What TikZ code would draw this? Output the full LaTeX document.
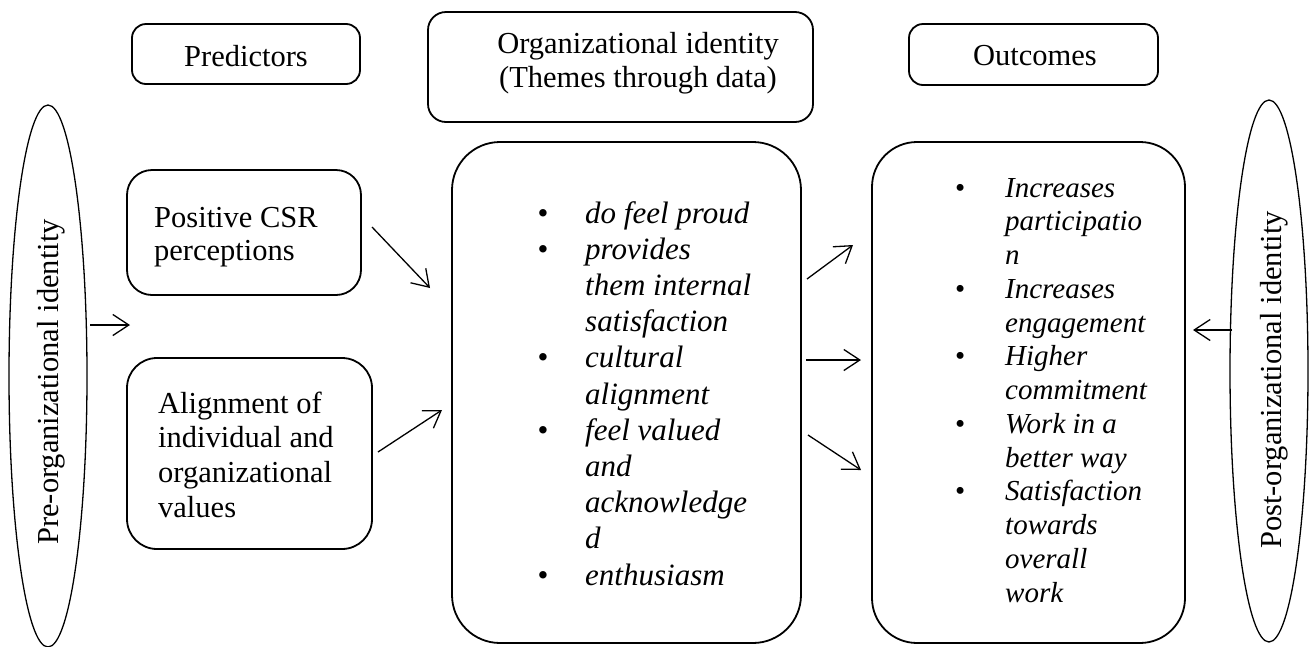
\documentclass[tikz,border=0pt]{standalone}
\usepackage{fontspec}
\setmainfont{Liberation Serif}
\usetikzlibrary{arrows.meta,shapes.geometric}

% font sizes used in the figure
\newcommand{\labelsize}{\fontsize{30.5}{33.5}\selectfont}
\newcommand{\themesize}{\fontsize{31}{36.2}\selectfont}
\newcommand{\outsize}{\fontsize{29}{33.75}\selectfont}

\begin{document}
\begin{tikzpicture}[x=1pt,y=-1pt,
  box/.style={draw,line width=1.8pt,rounded corners=#1,inner sep=0pt,
              outer sep=0pt,rectangle},
  oval/.style={draw,ellipse,line width=1.3pt,inner sep=0pt,
               minimum width=78pt,minimum height=542pt},
  label/.style={inner sep=0pt,font=\labelsize},
  flow/.style={line width=1.3pt,-{Straight Barb[length=16pt,width=21pt,line width=1.3pt]}}]

\useasboundingbox (0,0) rectangle (1309,646);
\clip (0,0) rectangle (1309,646);

% column headings
\node[box=14pt,minimum width=228pt,minimum height=60pt] (predbox) at (246,54) {};
\node[label] (predtxt) at (246,56) {Predictors};

\node[box=18pt,minimum width=385pt,minimum height=110pt] (orgbox) at (620.5,67) {};
\node[label,align=center] (orgtxt) at (638,63)
  {Organizational identity\\(Themes through data)};

\node[box=14pt,minimum width=249pt,minimum height=61pt] (outbox) at (1033.5,54.5) {};
\node[label] (outtxt) at (1035,56) {Outcomes};

% side ellipses
\node[oval] (pre) at (48,376) {};
\node[label,rotate=90] (pretxt) at (51,382) {Pre-organizational identity};

\node[oval] (post) at (1269,371) {};
\node[label,rotate=90] (posttxt) at (1274,380) {Post-organizational identity};

% predictor boxes
\node[box=25pt,minimum width=234pt,minimum height=125pt] (csr) at (244,232.5) {};
\node[label,anchor=base west] (csrtxt) at (154,227)
  {\begin{tabular}[t]{@{}l@{}}Positive CSR\\perceptions\end{tabular}};

\node[box=30pt,minimum width=245pt,minimum height=191pt] (align) at (249.5,453.5) {};
\node[label,anchor=base west] (aligntxt) at (158,413)
  {\fontsize{30.5}{34.7}\selectfont
   \begin{tabular}[t]{@{}l@{}}Alignment of\\individual and\\organizational\\values\end{tabular}};

% organizational identity themes
\node[box=48pt,minimum width=349pt,minimum height=501pt] (themes) at (626.5,392.5) {};
\node[inner sep=0pt,anchor=base west,font=\themesize] (themetxt) at (537.5,223)
  {\begin{tabular}[t]{@{}p{47.5pt}@{}l@{}}
   \textbullet & \textit{do feel proud}\\
   \textbullet & \textit{provides}\\
               & \textit{them internal}\\
               & \textit{satisfaction}\\
   \textbullet & \textit{cultural}\\
               & \textit{alignment}\\
   \textbullet & \textit{feel valued}\\
               & \textit{and}\\
               & \textit{acknowledge}\\
               & \textit{d}\\
   \textbullet & \textit{enthusiasm}
   \end{tabular}};

% outcomes
\node[box=45pt,minimum width=313pt,minimum height=501pt] (results) at (1028.5,392.5) {};
\node[inner sep=0pt,anchor=base west,font=\outsize] (resulttxt) at (955,197)
  {\begin{tabular}[t]{@{}p{50pt}@{}l@{}}
   \textbullet & \textit{Increases}\\
               & \textit{participatio}\\
               & \textit{n}\\
   \textbullet & \textit{Increases}\\
               & \textit{engagement}\\
   \textbullet & \textit{Higher}\\
               & \textit{commitment}\\
   \textbullet & \textit{Work in a}\\
               & \textit{better way}\\
   \textbullet & \textit{Satisfaction}\\
               & \textit{towards}\\
               & \textit{overall}\\
               & \textit{work}
   \end{tabular}};

% arrow end points
\coordinate (preout) at (90,325);
\coordinate (prein) at (130,325);
\coordinate (csrout) at (372,227);
\coordinate (csrin) at (430,288);
\coordinate (alignout) at (378,452);
\coordinate (alignin) at (442,410);
\coordinate (thA) at (807,279);
\coordinate (resA) at (853,245);
\coordinate (thB) at (806,360);
\coordinate (resB) at (861,360);
\coordinate (thC) at (808,435);
\coordinate (resC) at (861,470);
\coordinate (postout) at (1232,330);
\coordinate (postin) at (1193,330);

% connectors
\draw[flow] (preout) -- (prein);
\draw[flow] (csrout) -- (csrin);
\draw[flow] (alignout) -- (alignin);
\draw[flow] (thA) -- (resA);
\draw[flow] (thB) -- (resB);
\draw[flow] (thC) -- (resC);
\draw[flow] (postout) -- (postin);

\end{tikzpicture}
\end{document}
